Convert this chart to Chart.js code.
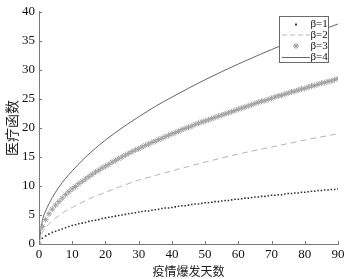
<!DOCTYPE html>
<html>
<head>
<meta charset="utf-8">
<script src="https://cdn.jsdelivr.net/npm/chart.js@4.4.0/dist/chart.umd.min.js"></script>
<style>
  html, body { margin: 0; padding: 0; background: #fff; }
  #wrap { width: 348px; height: 279px; position: relative; }
</style>
</head>
<body>
<div id="wrap"><canvas id="c"></canvas></div>
<script>
// ---- data ----
const days = [];
for (let d = 0; d <= 90; d++) days.push(d);

const beta1 = [0, 1, 1.4, 1.7, 2, 2.2, 2.4, 2.6, 2.8, 3, 3.2, 3.3, 3.5, 3.6, 3.7, 3.9, 4, 4.1, 4.2, 4.4,
  4.5, 4.6, 4.7, 4.8, 4.9, 5, 5.1, 5.2, 5.3, 5.4, 5.5, 5.6, 5.7, 5.7, 5.8, 5.9, 6, 6.1, 6.2, 6.2,
  6.3, 6.4, 6.5, 6.6, 6.6, 6.7, 6.8, 6.9, 6.9, 7, 7.1, 7.1, 7.2, 7.3, 7.3, 7.4, 7.5, 7.5, 7.6, 7.7,
  7.7, 7.8, 7.9, 7.9, 8, 8.1, 8.1, 8.2, 8.2, 8.3, 8.4, 8.4, 8.5, 8.5, 8.6, 8.7, 8.7, 8.8, 8.8, 8.9,
  8.9, 9, 9.1, 9.1, 9.2, 9.2, 9.3, 9.3, 9.4, 9.4, 9.5];

const beta3 = [0, 3, 4.2, 5.2, 6, 6.7, 7.3, 7.9, 8.5, 9, 9.5, 9.9, 10.4, 10.8, 11.2, 11.6, 12, 12.4, 12.7, 13.1,
  13.4, 13.7, 14.1, 14.4, 14.7, 15, 15.3, 15.6, 15.9, 16.2, 16.4, 16.7, 17, 17.2, 17.5, 17.7, 18, 18.2, 18.5, 18.7,
  19, 19.2, 19.4, 19.7, 19.9, 20.1, 20.3, 20.6, 20.8, 21, 21.2, 21.4, 21.6, 21.8, 22, 22.2, 22.4, 22.6, 22.8, 23,
  23.2, 23.4, 23.6, 23.8, 24, 24.2, 24.4, 24.6, 24.7, 24.9, 25.1, 25.3, 25.5, 25.6, 25.8, 26, 26.2, 26.3, 26.5, 26.7,
  26.8, 27, 27.2, 27.3, 27.5, 27.7, 27.8, 28, 28.1, 28.3, 28.5];

const lineDays = [0, 1, 2, 3, 4, 6, 8, 10, 13, 16, 20, 25, 30, 35, 40, 50, 60, 70, 80, 90];
const beta2 = [0, 2, 2.8, 3.5, 4, 4.9, 5.7, 6.3, 7.2, 8, 8.9, 10, 11, 11.8, 12.6, 14.1, 15.5, 16.7, 17.9, 19];
const beta4 = [0, 4, 5.7, 6.9, 8, 9.8, 11.3, 12.6, 14.4, 16, 17.9, 20, 21.9, 23.7, 25.3, 28.3, 31, 33.5, 35.8, 37.9];

const legendLabels = ['β=1', 'β=2', 'β=3', 'β=4'];

const pts = (xs, ys) => xs.map((x, i) => ({ x: x, y: ys[i] }));

const serif = '"Liberation Serif", "DejaVu Serif", serif';
const axisColor = '#7a7a7a';

// ---- inward ticks + boxed legend ----
const decor = {
  id: 'decor',
  afterDraw(chart) {
    const ctx = chart.ctx;
    const xs = chart.scales.x, ys = chart.scales.y;
    const a = chart.chartArea;
    ctx.save();
    ctx.strokeStyle = axisColor;
    ctx.lineWidth = 1;
    ctx.beginPath();
    xs.ticks.forEach(t => {
      const px = Math.round(xs.getPixelForValue(t.value)) + 0.5;
      ctx.moveTo(px, a.bottom); ctx.lineTo(px, a.bottom - 3);
    });
    ys.ticks.forEach(t => {
      const py = Math.round(ys.getPixelForValue(t.value)) + 0.5;
      ctx.moveTo(a.left, py); ctx.lineTo(a.left + 3, py);
    });
    ctx.stroke();

    // legend box
    const bx = 279.5, by = 16.5, bw = 49, bh = 46;
    ctx.fillStyle = '#fff';
    ctx.fillRect(bx, by, bw, bh);
    ctx.strokeStyle = '#6a6a6a';
    ctx.strokeRect(bx, by, bw, bh);
    const rows = [24.5, 35, 46, 57.5];
    const sx = 296;
    // β=1 dot
    ctx.fillStyle = '#333';
    ctx.fillRect(sx - 1, rows[0] - 1, 2, 2);
    // β=2 dashed
    ctx.strokeStyle = '#b4b4b4';
    ctx.setLineDash([5, 3]);
    ctx.beginPath(); ctx.moveTo(282, rows[1]); ctx.lineTo(310, rows[1]); ctx.stroke();
    ctx.setLineDash([]);
    // β=3 star
    ctx.strokeStyle = '#9a9a9a';
    ctx.beginPath();
    const r = 3;
    ctx.moveTo(sx - r, rows[2]); ctx.lineTo(sx + r, rows[2]);
    ctx.moveTo(sx, rows[2] - r); ctx.lineTo(sx, rows[2] + r);
    ctx.moveTo(sx - r * 0.7, rows[2] - r * 0.7); ctx.lineTo(sx + r * 0.7, rows[2] + r * 0.7);
    ctx.moveTo(sx - r * 0.7, rows[2] + r * 0.7); ctx.lineTo(sx + r * 0.7, rows[2] - r * 0.7);
    ctx.stroke();
    // β=4 solid
    ctx.strokeStyle = '#666';
    ctx.beginPath(); ctx.moveTo(282, rows[3]); ctx.lineTo(310, rows[3]); ctx.stroke();

    ctx.fillStyle = '#111';
    ctx.font = '11px ' + serif;
    ctx.textBaseline = 'middle';
    ctx.textAlign = 'left';
    legendLabels.forEach((s, i) => ctx.fillText(s, 310.5, rows[i]));
    ctx.restore();
  }
};

new Chart(document.getElementById('c').getContext('2d'), {
  type: 'scatter',
  data: {
    datasets: [
      {
        label: legendLabels[0],
        data: pts(days, beta1),
        showLine: false,
        pointStyle: 'rect',
        pointRadius: 1.1,
        borderWidth: 0,
        backgroundColor: '#333'
      },
      {
        label: legendLabels[1],
        data: pts(lineDays, beta2),
        showLine: true,
        borderColor: '#b4b4b4',
        borderWidth: 1,
        borderDash: [6, 4],
        pointRadius: 0,
        cubicInterpolationMode: 'monotone'
      },
      {
        label: legendLabels[2],
        data: pts(days, beta3),
        showLine: false,
        pointStyle: 'star',
        pointRadius: 3,
        borderWidth: 1,
        borderColor: '#a0a0a0',
        backgroundColor: '#a0a0a0'
      },
      {
        label: legendLabels[3],
        data: pts(lineDays, beta4),
        showLine: true,
        borderColor: '#666',
        borderWidth: 1,
        pointRadius: 0,
        cubicInterpolationMode: 'monotone'
      }
    ]
  },
  options: {
    responsive: true,
    maintainAspectRatio: false,
    animation: false,
    layout: { padding: { top: 7, right: 10, left: 0, bottom: 0 } },
    plugins: { legend: { display: false }, tooltip: { enabled: false } },
    scales: {
      x: {
        type: 'linear',
        min: 0, max: 90,
        ticks: { stepSize: 10, color: '#111', font: { family: serif, size: 13 }, padding: 3, maxRotation: 0 },
        grid: { display: false, drawTicks: false },
        border: { display: true, color: axisColor },
        title: { display: true, text: '疫情爆发天数', color: '#222', font: { family: '"Noto Sans CJK SC"', size: 12 }, padding: { top: 1, bottom: 0 } },
        afterFit(s) { s.height = 35; }
      },
      y: {
        min: 0, max: 40,
        ticks: { stepSize: 5, color: '#111', font: { family: serif, size: 13 }, padding: 4 },
        grid: { display: false, drawTicks: false },
        border: { display: true, color: axisColor },
        title: { display: true, text: '医疗函数', color: '#222', font: { family: '"Noto Sans CJK SC"', size: 14 }, padding: { top: 3, bottom: 2 } },
        afterFit(s) { s.width = 39; }
      }
    }
  },
  plugins: [decor]
});
</script>
</body>
</html>
